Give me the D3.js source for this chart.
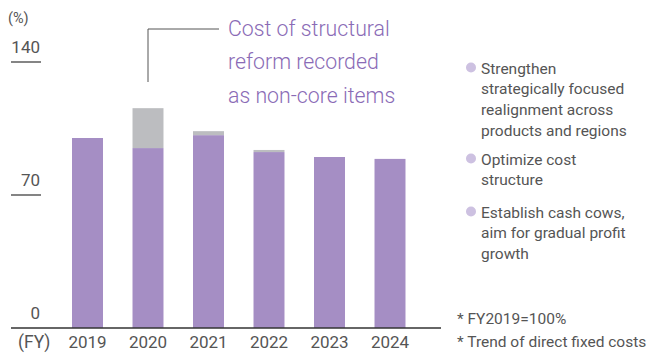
<!DOCTYPE html>
<html>
<head>
<meta charset="utf-8">
<script src="https://cdn.jsdelivr.net/npm/d3@7"></script>
<style>
  body { margin: 0; background: #fff; }
  svg { display: block; font-family: Roboto, "Liberation Sans", sans-serif; }
</style>
</head>
<body>
<script>
// fiscal years and fixed cost index (FY2019 = 100)
var years = ['2019', '2020', '2021', '2022', '2023', '2024'];
var coreCosts = [100, 94.7, 101.5, 92.6, 90, 89];
var nonCoreCosts = [0, 21, 2.1, 1.1, 0, 0];
var yTicks = [0, 70, 140];

var legendItems = [
  ['Strengthen', 'strategically focused', 'realignment across', 'products and regions'],
  ['Optimize cost', 'structure'],
  ['Establish cash cows,', 'aim for gradual profit', 'growth']
];
var noteLines = ['Cost of structural', 'reform recorded', 'as non-core items'];
var footnotes = ['* FY2019=100%', '* Trend of direct fixed costs'];

var width = 654;
var height = 354;
var textColor = '#555';
var purple = '#a58ec4';
var grey = '#bcbdc0';

var svg = d3.select('body').append('svg')
  .attr('width', width)
  .attr('height', height);

var x = d3.scaleBand()
  .domain(years)
  .range([57.25, 420.25])
  .paddingInner(0.488)
  .paddingOuter(0.244);

var y = d3.scaleLinear()
  .domain([0, 140])
  .range([328, 62]);

var rows = years.map(function(yr, i) {
  return {year: yr, core: coreCosts[i], nonCore: nonCoreCosts[i]};
});
var series = d3.stack().keys(['core', 'nonCore'])(rows);
var colors = {core: purple, nonCore: grey};

svg.append('g').selectAll('g')
  .data(series)
  .join('g')
  .attr('fill', function(d) { return colors[d.key]; })
  .selectAll('rect')
  .data(function(d) { return d; })
  .join('rect')
  .attr('x', function(d) { return x(d.data.year); })
  .attr('width', x.bandwidth())
  .attr('y', function(d) { return y(d[1]); })
  .attr('height', function(d) { return y(d[0]) - y(d[1]); });

// y ticks: short rules under the labels
yTicks.forEach(function(v) {
  if(v > 0) {
    svg.append('line')
      .attr('x1', 11).attr('x2', 41)
      .attr('y1', y(v)).attr('y2', y(v))
      .attr('stroke', '#333').attr('stroke-width', 1.2);
  }
  svg.append('text')
    .attr('x', 40)
    .attr('y', y(v) - 9)
    .attr('text-anchor', 'end')
    .attr('fill', textColor)
    .attr('font-size', 17)
    .text(v);
});

svg.append('text')
  .attr('x', 8).attr('y', 23)
  .attr('fill', textColor)
  .attr('font-size', 14.5)
  .text('(%)');

// baseline
svg.append('line')
  .attr('x1', 11).attr('x2', 441)
  .attr('y1', y(0)).attr('y2', y(0))
  .attr('stroke', '#333').attr('stroke-width', 1.5);

svg.append('g').selectAll('text')
  .data(years)
  .join('text')
  .attr('x', function(d) { return x(d) + x.bandwidth() / 2; })
  .attr('y', 348)
  .attr('text-anchor', 'middle')
  .attr('fill', textColor)
  .attr('font-size', 17)
  .text(function(d) { return d; });

svg.append('text')
  .attr('x', 18).attr('y', 348)
  .attr('fill', textColor)
  .attr('font-size', 17.5)
  .text('(FY)');

// callout for the 2020 non-core cost
var calloutX = x('2020') + x.bandwidth() / 2;
svg.append('path')
  .attr('d', 'M' + calloutX + ',82V29H219')
  .attr('fill', 'none')
  .attr('stroke', '#555')
  .attr('stroke-width', 1);

svg.append('g').selectAll('text')
  .data(noteLines)
  .join('text')
  .attr('x', 228)
  .attr('y', function(d, i) { return 35.5 + i * 33.5; })
  .attr('fill', '#8a6bb6')
  .attr('font-size', 21.3)
  .attr('font-weight', 300)
  .text(function(d) { return d; });

// legend
var legendStarts = [68, 159, 212];
legendItems.forEach(function(lines, i) {
  var top = legendStarts[i];
  svg.append('circle')
    .attr('cx', 471).attr('cy', top - 0.5)
    .attr('r', 5)
    .attr('fill', '#cdc1e1');
  lines.forEach(function(line, j) {
    svg.append('text')
      .attr('x', 481)
      .attr('y', top + 5.5 + j * 20.7)
      .attr('fill', textColor)
      .attr('font-size', 15.5)
      .text(line);
  });
});

svg.append('g').selectAll('text')
  .data(footnotes)
  .join('text')
  .attr('x', 457)
  .attr('y', function(d, i) { return 323.5 + i * 23; })
  .attr('fill', textColor)
  .attr('font-size', 15.5)
  .text(function(d) { return d; });
</script>
</body>
</html>
